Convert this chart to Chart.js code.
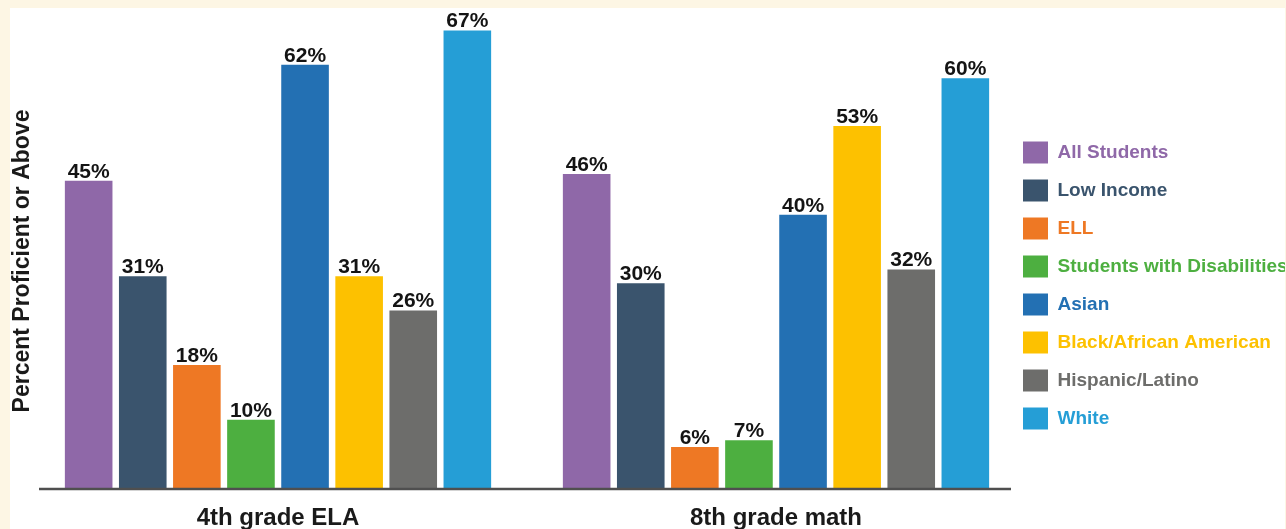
<!DOCTYPE html>
<html>
<head>
<meta charset="utf-8">
<script src="https://cdn.jsdelivr.net/npm/chart.js@4/dist/chart.umd.min.js"></script>
<style>
    html, body { margin: 0; padding: 0; }
    body { background: #fdf6e4; width: 1286px; height: 529px; overflow: hidden; position: relative; }
    #panel { position: absolute; left: 10px; top: 8px; width: 1275px; height: 521px; background: #fff; overflow: hidden; }
</style>
</head>
<body>
<div id="panel"><canvas id="chart" width="1275" height="521"></canvas></div>
<script>
const grades = ["4th grade ELA", "8th grade math"];
const groups = ["All Students", "Low Income", "ELL", "Students with Disabilities",
    "Asian", "Black/African American", "Hispanic/Latino", "White"];
const groupColors = ["#8f68a8", "#3a546d", "#ee7824", "#4daf40",
    "#2370b3", "#fdc100", "#6d6d6b", "#259ed6"];
const elaScores = [45, 31, 18, 10, 62, 31, 26, 67];
const mathScores = [46, 30, 6, 7, 40, 53, 32, 60];
const yTitle = "Percent Proficient or Above";

const FONT = '"Liberation Sans", Arial, sans-serif';

// percent labels above every bar
const barLabels = {
    id: "barLabels",
    afterDatasetsDraw(chart) {
        const { ctx } = chart;
        ctx.save();
        ctx.font = `bold 21px ${FONT}`;
        ctx.fillStyle = "#141414";
        ctx.textAlign = "center";
        ctx.textBaseline = "alphabetic";
        chart.data.datasets.forEach((ds, i) => {
            chart.getDatasetMeta(i).data.forEach((bar, j) => {
                ctx.fillText(ds.data[j] + "%", bar.x, bar.y - 3);
            });
        });
        ctx.restore();
    }
};

// baseline under the bars (a bit shorter than the plot area) + rotated y title
const axisDecor = {
    id: "axisDecor",
    afterDatasetsDraw(chart) {
        const { ctx, chartArea } = chart;
        ctx.save();
        ctx.strokeStyle = "#4f4f4f";
        ctx.lineWidth = 2.5;
        ctx.beginPath();
        ctx.moveTo(chartArea.left + 10, chartArea.bottom + 1);
        ctx.lineTo(chartArea.right - 14, chartArea.bottom + 1);
        ctx.stroke();

        ctx.translate(13, (chartArea.top + chartArea.bottom) / 2 + 12);
        ctx.rotate(-Math.PI / 2);
        ctx.font = `bold 23px ${FONT}`;
        ctx.fillStyle = "#1a1a1a";
        ctx.textAlign = "center";
        ctx.textBaseline = "middle";
        ctx.fillText(yTitle, 0, 0);
        ctx.restore();
    }
};

// pull the legend in next to the last bars, let long names run to the edge
const legendNudge = {
    id: "legendNudge",
    afterLayout(chart) {
        const lg = chart.legend;
        lg.left -= 18;
        lg.right = chart.width + 20;
        lg.top += 16; lg.bottom += 16;
    }
};

new Chart(document.getElementById("chart"), {
    type: "bar",
    plugins: [barLabels, axisDecor, legendNudge],
    data: {
        labels: grades,
        datasets: groups.map((name, i) => ({
            label: name,
            data: [elaScores[i], mathScores[i]],
            backgroundColor: groupColors[i],
            borderWidth: 0,
            categoryPercentage: 0.869,
            barPercentage: 0.88
        }))
    },
    options: {
        responsive: false,
        animation: false,
        layout: { padding: { top: 2, bottom: 0, left: 19, right: 0 } },
        scales: {
            x: {
                grid: { display: false },
                border: { display: false },
                ticks: {
                    color: "#1a1a1a",
                    padding: 10,
                    font: { family: FONT, size: 24, weight: "bold", lineHeight: 1 }
                },
                afterFit(scale) { scale.height = 41; }
            },
            y: {
                display: false,
                min: 0,
                max: 70
            }
        },
        plugins: {
            legend: {
                position: "right",
                maxWidth: 260,
                labels: {
                    boxWidth: 25,
                    boxHeight: 22,
                    padding: 16,
                    font: { family: FONT, size: 19, weight: "bold" },
                    generateLabels(chart) {
                        return Chart.defaults.plugins.legend.labels.generateLabels(chart)
                            .map(item => ({ ...item, fontColor: item.fillStyle, lineWidth: 0 }));
                    }
                }
            },
            tooltip: { enabled: false }
        }
    }
});
</script>
</body>
</html>
